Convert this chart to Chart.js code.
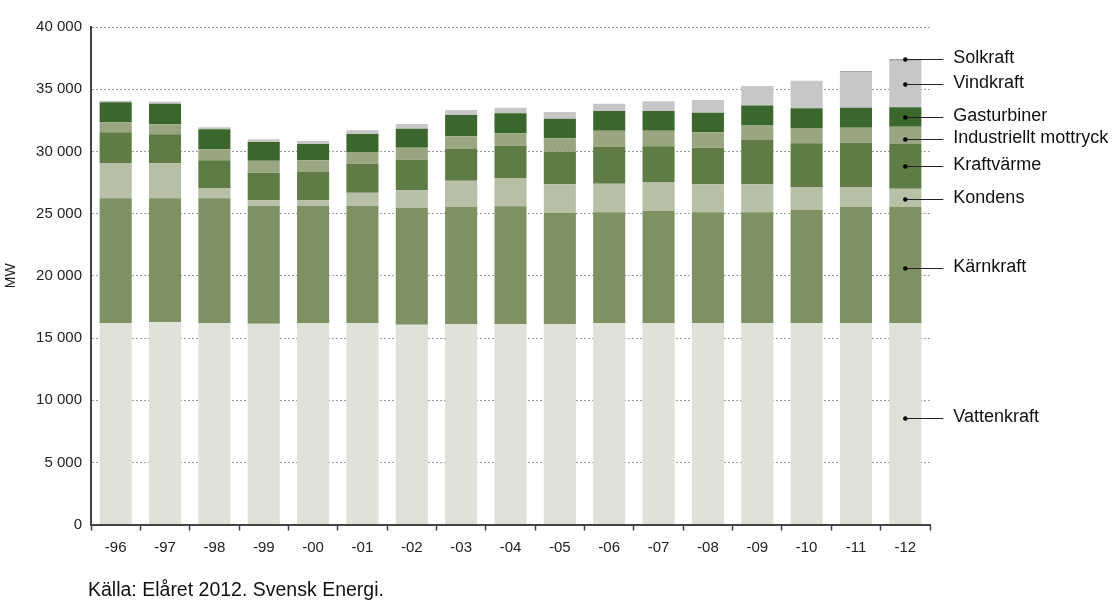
<!DOCTYPE html>
<html>
<head>
<meta charset="utf-8">
<script src="https://cdn.jsdelivr.net/npm/chart.js@4.4.0/dist/chart.umd.min.js"></script>
<style>
  body { margin: 0; background: #fff; }
  #wrap { position: relative; width: 1115px; height: 602px; }
  #source {
    position: absolute; left: 88px; top: 578px;
    font: 19.5px "Liberation Sans", Arial, sans-serif; color: #111;
  }
</style>
</head>
<body>
<div id="wrap">
  <canvas id="chart" width="1115" height="602"></canvas>
  <div id="source">Källa: Elåret 2012. Svensk Energi.</div>
</div>
<script>
// Installed capacity in Sweden, MW
const years = ['-96', '-97', '-98', '-99', '-00', '-01', '-02', '-03', '-04', '-05', '-06', '-07', '-08', '-09', '-10', '-11', '-12'];
const yTicks = [0, 5000, 10000, 15000, 20000, 25000, 30000, 35000, 40000];

const vattenkraft = [16180, 16260, 16180, 16150, 16210, 16210, 16070, 16130, 16130, 16130, 16180, 16210, 16210, 16210, 16200, 16200, 16200];
const karnkraft   = [10050, 9970, 10050, 9460, 9400, 9400, 9380, 9430, 9460, 8920, 8920, 9020, 8890, 8890, 9090, 9360, 9330];
const kondens     = [2840, 2810, 830, 460, 460, 1070, 1420, 2080, 2270, 2310, 2300, 2310, 2260, 2260, 1850, 1580, 1470];
const kraftvarme  = [2470, 2330, 2220, 2220, 2270, 2330, 2460, 2550, 2600, 2620, 2950, 2870, 2940, 3560, 3510, 3560, 3590];
const industriellt = [800, 810, 890, 960, 940, 940, 970, 1020, 990, 1070, 1310, 1250, 1240, 1200, 1230, 1210, 1400];
const gasturbiner = [1610, 1650, 1610, 1510, 1310, 1450, 1530, 1720, 1610, 1580, 1590, 1590, 1570, 1560, 1580, 1600, 1560];
const vindkraft   = [130, 170, 160, 210, 250, 300, 370, 400, 450, 540, 580, 780, 1020, 1580, 2220, 2890, 3760];
const solkraft    = [0, 0, 0, 0, 0, 0, 0, 0, 0, 0, 0, 0, 0, 0, 0, 50, 80];

const FONT = '"Liberation Sans", Arial, sans-serif';

function ds(label, data, color) {
  return {
    label: label,
    data: data,
    backgroundColor: color,
    borderWidth: 0,
    barPercentage: 0.65,
    categoryPercentage: 1
  };
}

// small nudges so labels don't crowd each other
const labelNudge = { 'Industriellt mottryck': 4, 'Kärnkraft': 3, 'Vattenkraft': -6, 'Kondens': 1 };

// leader lines + labels to the right of the last bar
const sideLabels = {
  id: 'sideLabels',
  afterDatasetsDraw(chart) {
    const ctx = chart.ctx;
    ctx.save();
    ctx.font = '18px ' + FONT;
    ctx.textBaseline = 'middle';
    chart.data.datasets.forEach((d, i) => {
      const bar = chart.getDatasetMeta(i).data[years.length - 1];
      const x = bar.x;
      let y = (bar.y + bar.base) / 2 + (labelNudge[d.label] || 0);
      if (d.label === 'Solkraft') y = bar.y;
      y = Math.round(y) + 0.5;
      ctx.strokeStyle = '#222';
      ctx.lineWidth = 1;
      ctx.beginPath();
      ctx.moveTo(x, y);
      ctx.lineTo(x + 38, y);
      ctx.stroke();
      ctx.beginPath();
      ctx.arc(x, y, 2.2, 0, Math.PI * 2);
      ctx.fillStyle = '#000';
      ctx.fill();
      ctx.fillStyle = '#111';
      ctx.fillText(d.label, x + 48, y - 1);
    });
    ctx.restore();
  }
};

const ctx = document.getElementById('chart').getContext('2d');
const chart = new Chart(ctx, {
  type: 'bar',
  data: {
    labels: years,
    datasets: [
      ds('Vattenkraft', vattenkraft, '#e0e1d8'),
      ds('Kärnkraft', karnkraft, '#7e9163'),
      ds('Kondens', kondens, '#b7bfa6'),
      ds('Kraftvärme', kraftvarme, '#5f7c44'),
      ds('Industriellt mottryck', industriellt, '#9aa681'),
      ds('Gasturbiner', gasturbiner, '#3b672c'),
      ds('Vindkraft', vindkraft, '#c7c7c7'),
      ds('Solkraft', solkraft, '#444444')
    ]
  },
  options: {
    responsive: false,
    animation: false,
    layout: { padding: { top: 27, right: 185, left: 0, bottom: 0 } },
    plugins: {
      legend: { display: false },
      tooltip: { enabled: false }
    },
    scales: {
      x: {
        stacked: true,
        grid: {
          offset: true,
          drawOnChartArea: false,
          drawTicks: true,
          tickLength: 6,
          tickColor: '#444',
          tickWidth: 1.5
        },
        border: { display: true, color: '#444', width: 2 },
        ticks: { color: '#222', font: { family: FONT, size: 15 }, padding: 8, maxRotation: 0 },
        afterFit: (scale) => { scale.height = 602 - 524.6; }
      },
      y: {
        stacked: true,
        min: 0,
        max: 40000,
        afterBuildTicks: (scale) => { scale.ticks = yTicks.map(v => ({ value: v })); },
        grid: {
          color: '#9a9a9a',
          lineWidth: 1,
          drawTicks: false
        },
        border: { display: true, color: '#444', width: 2, dash: [2, 2] },
        ticks: {
          color: '#222',
          font: { family: FONT, size: 15 },
          padding: 9,
          callback: (v) => v === 0 ? '0' : String(v).replace(/\B(?=(\d{3})+(?!\d))/g, ' ')
        },
        title: {
          display: true,
          text: 'MW',
          color: '#222',
          font: { family: FONT, size: 14 },
          padding: { top: 3, bottom: 0 }
        },
        afterFit: (scale) => { scale.width = 91; }
      }
    }
  },
  plugins: [sideLabels]
});
</script>
</body>
</html>
